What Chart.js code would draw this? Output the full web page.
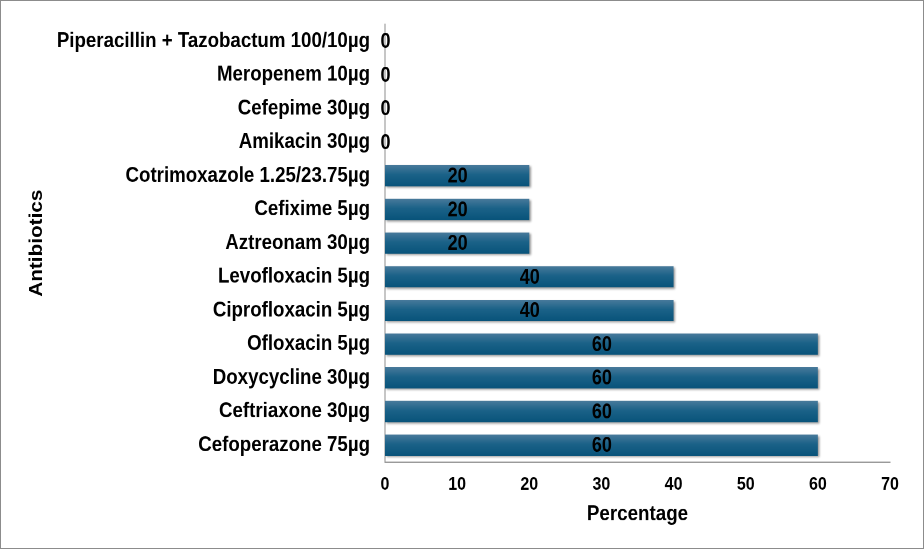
<!DOCTYPE html>
<html>
<head>
<meta charset="utf-8">
<script src="https://cdn.jsdelivr.net/npm/chart.js@4.4.1/dist/chart.umd.min.js"></script>
<style>
  body { margin: 0; background: #fff; }
  #page { width: 924px; height: 549px; position: relative; overflow: hidden; }
  /* the reference text looks stretched vertically, so the chart is drawn shorter and scaled up */
  #wrap { position: absolute; left: 0; top: 0; width: 924px; height: 477px; transform: scaleY(1.151); transform-origin: 0 0; }
  #frame { position: absolute; left: 0; top: 0; width: 924px; height: 549px; box-sizing: border-box; border: 1px solid #8c8c8c; pointer-events: none; }
</style>
</head>
<body>
<div id="page">
  <div id="wrap"><canvas id="chart"></canvas></div>
  <div id="frame"></div>
</div>
<script>
const antibiotics = [
    'Piperacillin + Tazobactum 100/10µg',
    'Meropenem 10µg',
    'Cefepime 30µg',
    'Amikacin 30µg',
    'Cotrimoxazole 1.25/23.75µg',
    'Cefixime 5µg',
    'Aztreonam 30µg',
    'Levofloxacin 5µg',
    'Ciprofloxacin 5µg',
    'Ofloxacin 5µg',
    'Doxycycline 30µg',
    'Ceftriaxone 30µg',
    'Cefoperazone 75µg'
];
const percentage = [0, 0, 0, 0, 20, 20, 20, 40, 40, 60, 60, 60, 60];
const xTicks = [0, 10, 20, 30, 40, 50, 60, 70];

const fontFamily = '"Liberation Sans", Arial, sans-serif';

function barGradient(context) {
    const chart = context.chart;
    const area = chart.chartArea;
    if (!area) return '#0e5a80';
    const y = chart.scales.y.getPixelForValue(context.dataIndex);
    const h = 9.5;
    const g = chart.ctx.createLinearGradient(0, y - h, 0, y + h);
    g.addColorStop(0, '#4a7b9c');
    g.addColorStop(0.45, '#1b6288');
    g.addColorStop(1, '#08537a');
    return g;
}

const plugin = {
    id: 'bars_extra',
    beforeDatasetsDraw: (chart) => {
        const ctx = chart.ctx;
        ctx.save();
        ctx.shadowColor = 'rgba(0, 0, 0, 0.4)';
        ctx.shadowBlur = 4;
        ctx.shadowOffsetX = 3;
        ctx.shadowOffsetY = 2.5;
    },
    afterDatasetsDraw: (chart) => {
        const ctx = chart.ctx;
        ctx.restore();
        ctx.save();
        ctx.font = 'bold 18px ' + fontFamily;
        ctx.fillStyle = '#000';
        ctx.textAlign = 'center';
        ctx.textBaseline = 'middle';
        const meta = chart.getDatasetMeta(0);
        meta.data.forEach((bar, i) => {
            const cx = (bar.x + bar.base) / 2;
            ctx.fillText(String(percentage[i]), cx + 0.5, bar.y + 1);
        });
        ctx.restore();
    }
};

const config = {
    type: 'bar',
    data: {
        labels: antibiotics,
        datasets: [{
            data: percentage,
            backgroundColor: barGradient,
            borderWidth: 0,
            categoryPercentage: 1,
            barPercentage: 0.63
        }]
    },
    options: {
        indexAxis: 'y',
        responsive: true,
        maintainAspectRatio: false,
        animation: false,
        devicePixelRatio: 2,
        plugins: {
            legend: { display: false },
            tooltip: { enabled: false }
        },
        layout: {
            padding: { top: 21, right: 34, left: 0, bottom: 0 }
        },
        scales: {
            x: {
                min: 0,
                max: 70,
                afterBuildTicks: (scale) => {
                    scale.ticks = xTicks.map(v => ({ value: v }));
                },
                afterFit: (scale) => {
                    scale.height = 75.6;
                    scale.paddingLeft = 0;
                    scale.paddingRight = 0;
                },
                grid: { display: false, drawTicks: false },
                border: { color: '#8c8c8c', width: 1 },
                ticks: { color: '#000', font: { family: fontFamily, size: 16, weight: 'bold' }, padding: 10 },
                title: {
                    display: true,
                    text: 'Percentage',
                    color: '#000',
                    font: { family: fontFamily, size: 18.8, weight: 'bold' },
                    padding: { top: 0, bottom: 19 }
                }
            },
            y: {
                afterFit: (scale) => {
                    scale.width = 385;
                    scale.paddingTop = 0;
                    scale.paddingBottom = 0;
                },
                grid: { display: false, drawTicks: false },
                border: { color: '#8c8c8c', width: 1 },
                ticks: { color: '#000', font: { family: fontFamily, size: 18.7, weight: 'bold' }, padding: 15 },
                title: {
                    display: true,
                    text: 'Antibiotics',
                    color: '#000',
                    font: { family: fontFamily, size: 18, weight: 'bold' },
                    padding: { top: 26, bottom: 0 }
                }
            }
        }
    },
    plugins: [plugin]
};

let chart = new Chart(document.getElementById('chart'), config);
</script>
</body>
</html>
